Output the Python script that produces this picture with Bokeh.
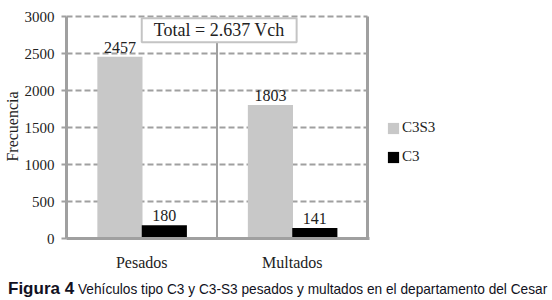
from bokeh.plotting import figure
from bokeh.layouts import column
from bokeh.models import (Range1d, ColumnDataSource, Label, Legend, LegendItem,
                          FixedTicker, Div)
from bokeh.embed import file_html
from bokeh.resources import INLINE
from bokeh.core.properties import value

# ---- data ----
categories = ["Pesados", "Multados"]
series_names = ["C3S3", "C3"]
c3s3 = [2457, 1803]
c3 = [180, 141]
y_ticks = [0, 500, 1000, 1500, 2000, 2500, 3000]
total_text = "Total = 2.637 Vch"
y_label = "Frecuencia"
caption_bold = "Figura 4"
caption_rest = "Vehículos tipo C3 y C3-S3 pesados y multados en el departamento del Cesar"

SERIF = "Liberation Serif"
GRAY_BAR = "#c8c8c8"
AX = "#a0a0a0"
TXT = "#222222"

n = len(categories)
y_max = y_ticks[-1]
# plot area spans [0, n] on x; frame is wider to host the legend
X_MAX = n * (552 - 66) / 301.0

off1, off2, w = 0.355, 0.65, 0.3
idx = list(range(n))
src = ColumnDataSource(dict(
    x1=[i + off1 for i in idx], x2=[i + off2 for i in idx],
    c3s3=c3s3, c3=c3,
    c3s3_txt=[str(v) for v in c3s3], c3_txt=[str(v) for v in c3],
))

p = figure(width=552, height=278,
           x_range=Range1d(0, X_MAX),
           y_range=Range1d(0, y_max * 224 / 222.0),
           output_backend="svg", toolbar_location=None,
           min_border_left=66, min_border_top=14, min_border_right=0, min_border_bottom=40)
p.outline_line_color = None
p.background_fill_color = "white"
p.border_fill_color = "white"
p.xgrid.visible = False
p.ygrid.visible = False

# dashed horizontal gridlines within the plot area
p.segment(x0=[0] * len(y_ticks), x1=[n] * len(y_ticks), y0=y_ticks, y1=y_ticks,
          line_color=AX, line_width=2, line_dash="6 3")
# category separators and right border
p.segment(x0=list(range(1, n)), x1=list(range(1, n)), y0=[0] * (n - 1), y1=[y_max] * (n - 1),
          line_color=AX, line_width=2)
p.segment(x0=[n], x1=[n], y0=[0], y1=[y_max], line_color=AX, line_width=3)

r1 = p.vbar(x="x1", top="c3s3", width=w, source=src, fill_color=GRAY_BAR, line_color=None)
r2 = p.vbar(x="x2", top="c3", width=w, source=src, fill_color="black", line_color=None)

for xc, col in [("x1", "c3s3"), ("x2", "c3")]:
    p.text(x=xc, y=col, text=col + "_txt", source=src,
           text_align="center", text_baseline="bottom", y_offset=-4,
           text_font=value(SERIF), text_font_size="16px", text_color=TXT)

# y axis
yax = p.yaxis[0]
yax.ticker = FixedTicker(ticks=y_ticks)
yax.bounds = (0, y_max)
yax.axis_line_color = AX
yax.axis_line_width = 3
yax.major_tick_line_color = AX
yax.major_tick_line_width = 2
yax.major_tick_out = 5
yax.major_tick_in = 0
yax.minor_tick_line_color = None
yax.major_label_text_font = SERIF
yax.major_label_text_font_size = "15px"
yax.major_label_text_color = TXT
yax.major_label_standoff = 7
yax.axis_label = y_label
yax.axis_label_text_font = SERIF
yax.axis_label_text_font_style = "normal"
yax.axis_label_text_font_size = "16px"
yax.axis_label_text_color = TXT
yax.axis_label_standoff = 1

# x axis (categories)
xax = p.xaxis[0]
xax.ticker = FixedTicker(ticks=[i + 0.5 for i in idx])
xax.major_label_overrides = {i + 0.5: c for i, c in zip(idx, categories)}
xax.bounds = (0, n + 0.015)
xax.axis_line_color = AX
xax.axis_line_width = 3
xax.major_tick_line_color = None
xax.minor_tick_line_color = None
xax.major_label_text_font = SERIF
xax.major_label_text_font_size = "16px"
xax.major_label_text_color = TXT
xax.major_label_standoff = 9

# total box
p.add_layout(Label(x=0.5, y=2975, text=total_text, text_align="left", text_baseline="top",
                   text_font=SERIF, text_font_size="18px", text_color=TXT,
                   border_line_color="#c4c4c4", border_line_width=2,
                   background_fill_color="white", padding=(12, 2)))

# legend
legend = Legend(items=[LegendItem(label=series_names[0], renderers=[r1]),
                       LegendItem(label=series_names[1], renderers=[r2])],
                location=(320, 73), orientation="vertical",
                glyph_width=14, glyph_height=14, label_standoff=2, spacing=12,
                padding=0, margin=0, border_line_color=None, background_fill_color=None,
                label_text_font=SERIF, label_text_font_size="15px", label_text_color=TXT,
                label_height=14)
p.add_layout(legend, "center")

# caption
cap = Div(text=(f'<span style="font-weight:bold;font-size:17px">{caption_bold}</span> '
                f'<span style="display:inline-block;transform:scaleX(0.912);'
                f'transform-origin:left center">{caption_rest}</span>'),
          width=552, height=22, margin=(0, 0, 0, 8),
          styles={"font-family": "'Liberation Sans', Arial, sans-serif",
                  "font-size": "15px", "line-height": "22px", "color": "#111122",
                  "white-space": "nowrap", "overflow": "visible"})

layout = column(p, cap, spacing=0)
open("out.html", "w").write(file_html(layout, INLINE))
